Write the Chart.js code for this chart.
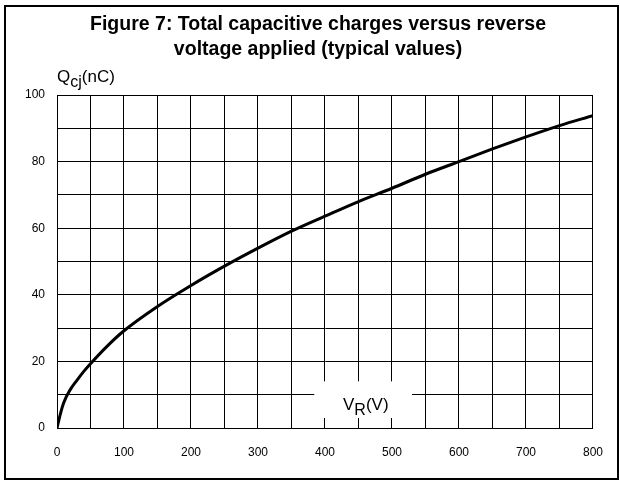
<!DOCTYPE html>
<html>
<head>
<meta charset="utf-8">
<script src="https://cdn.jsdelivr.net/npm/chart.js@4.4.1/dist/chart.umd.min.js"></script>
<style>
  html, body { margin: 0; padding: 0; background: #fff; }
  canvas { display: block; }
</style>
</head>
<body>
<canvas id="qcjChart" width="620" height="481"></canvas>
<script>
// Figure 7: total capacitive charge vs reverse voltage

const voltages = [0, 5, 10, 20, 30, 40, 50, 75, 100, 150, 200, 250, 300, 350, 400, 450, 500, 550, 600, 650, 700, 750, 800];
const charges = [0, 4.2, 7.6, 11.6, 14.4, 17, 19.3, 24.6, 29.2, 36.5, 42.8, 48.6, 54, 59.1, 63.6, 68, 72, 76.2, 80, 83.8, 87.4, 90.8, 93.8];

const titleLines = ["Figure 7: Total capacitive charges versus reverse", "voltage applied (typical values)"];
const xLabelTicks = [0, 100, 200, 300, 400, 500, 600, 700, 800];
const yLabelTicks = [0, 20, 40, 60, 80, 100];

const FONT = "'Liberation Sans', Arial, sans-serif";

// text with a subscript part: [main, sub, rest]
function drawSubText(ctx, x, y, parts, size) {
    ctx.font = size + "px " + FONT;
    ctx.fillText(parts[0], x, y);
    let w = ctx.measureText(parts[0]).width;
    ctx.font = Math.round(size * 0.93) + "px " + FONT;
    ctx.fillText(parts[1], x + w, y + size * 0.3);
    w += ctx.measureText(parts[1]).width;
    ctx.font = size + "px " + FONT;
    ctx.fillText(parts[2], x + w, y);
}

const decorPlugin = {
    id: "decor",
    beforeDatasetsDraw(chart) {
        const ctx = chart.ctx;
        const xs = chart.scales.x, ys = chart.scales.y;
        // white box behind the x axis title
        const bx1 = xs.getPixelForValue(384), bx2 = xs.getPixelForValue(530);
        const by1 = ys.getPixelForValue(14), by2 = ys.getPixelForValue(3);
        ctx.save();
        ctx.fillStyle = "#fff";
        ctx.fillRect(bx1, by1, bx2 - bx1, by2 - by1);
        ctx.fillStyle = "#000";
        ctx.textBaseline = "alphabetic";
        ctx.textAlign = "left";
        drawSubText(ctx, 343, 410, ["V", "R", "(V)"], 17);
        ctx.restore();
    },
    afterDraw(chart) {
        const ctx = chart.ctx;
        ctx.save();
        ctx.strokeStyle = "#000";
        ctx.lineWidth = 2;
        ctx.strokeRect(5, 6, 613, 473);
        ctx.fillStyle = "#000";
        ctx.textAlign = "center";
        ctx.textBaseline = "alphabetic";
        ctx.font = "bold 19.5px " + FONT;
        ctx.fillText(titleLines[0], 318, 30);
        ctx.fillText(titleLines[1], 318, 55);
        ctx.textAlign = "left";
        drawSubText(ctx, 57, 82, ["Q", "cj", "(nC)"], 17);
        ctx.restore();
    }
};

new Chart(document.getElementById("qcjChart"), {
    type: "line",
    data: {
        datasets: [{
            data: voltages.map((v, i) => ({ x: v, y: charges[i] })),
            borderColor: "#000",
            borderWidth: 3,
            pointRadius: 0,
            tension: 0.4,
            cubicInterpolationMode: "monotone",
            fill: false
        }]
    },
    options: {
        responsive: false,
        animation: false,
        layout: { padding: { top: 95, right: 25, left: 0, bottom: 0 } },
        plugins: { legend: { display: false }, tooltip: { enabled: false }, title: { display: false } },
        scales: {
            x: {
                type: "linear",
                min: 0,
                max: 800,
                afterFit(scale) { scale.height = 53; },
                grid: { color: "#000", lineWidth: 1, drawTicks: false },
                border: { color: "#000", width: 1 },
                ticks: {
                    stepSize: 50,
                    padding: 17,
                    color: "#000",
                    font: { family: FONT, size: 12 },
                    callback: v => xLabelTicks.includes(v) ? v : ""
                }
            },
            y: {
                min: 0,
                max: 100,
                afterFit(scale) { scale.width = 57; },
                grid: { color: "#000", lineWidth: 1, drawTicks: false },
                border: { color: "#000", width: 1 },
                ticks: {
                    stepSize: 10,
                    padding: 12,
                    color: "#000",
                    font: { family: FONT, size: 12 },
                    callback: v => yLabelTicks.includes(v) ? v : ""
                }
            }
        }
    },
    plugins: [decorPlugin]
});
</script>
</body>
</html>
